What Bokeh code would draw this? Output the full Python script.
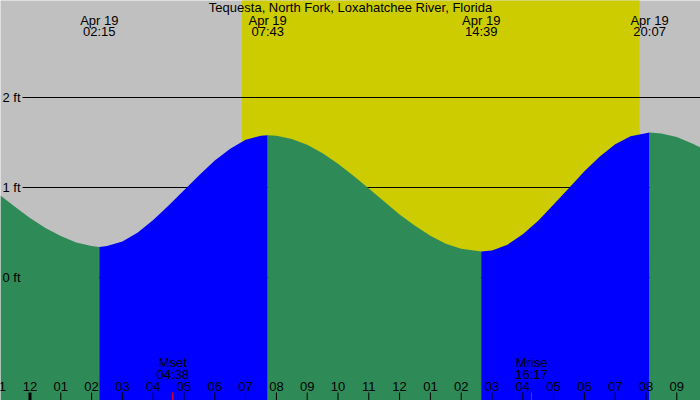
from bokeh.plotting import figure
from bokeh.models import Range1d
from bokeh.core.properties import value
from bokeh.embed import file_html
from bokeh.resources import INLINE

# ---------------- data ----------------
title = "Tequesta, North Fork, Loxahatchee River, Florida"
date_label = "Apr 19"

# hours after midnight Apr 19, tide height in ft
tide_hours = [-0.96, -0.5, 0.0, 0.5, 1.0, 1.5, 2.0, 2.25,
              2.5, 3.0, 3.5, 4.0, 4.5, 5.0, 5.5, 6.0, 6.5, 7.0, 7.5, 7.717,
              8.0, 8.5, 9.0, 9.5, 10.0, 10.5, 11.0, 11.5, 12.0, 12.5, 13.0,
              13.5, 14.0, 14.65,
              15.0, 15.5, 16.0, 16.5, 17.0, 17.5, 18.0, 18.5, 19.0, 19.5, 20.117,
              20.5, 21.0, 21.5, 21.8]
tide_ft = [0.91, 0.79, 0.66, 0.55, 0.46, 0.39, 0.35, 0.34,
           0.35, 0.40, 0.50, 0.64, 0.80, 0.97, 1.14, 1.30, 1.43, 1.53, 1.575, 1.58,
           1.575, 1.54, 1.475, 1.38, 1.265, 1.13, 0.99, 0.845, 0.70, 0.575, 0.465,
           0.375, 0.32, 0.29,
           0.30, 0.365, 0.48, 0.63, 0.81, 0.995, 1.18, 1.345, 1.48, 1.57, 1.61,
           1.60, 1.56, 1.49, 1.44]

extreme_hours = [2.25, 7.717, 14.65, 20.117]
extreme_times = ["02:15", "07:43", "14:39", "20:07"]
extreme_types = ["low", "high", "low", "high"]

sunrise_hour = 6.88
sunset_hour = 19.79

moon_hours = [4.633, 16.283]
moon_names = ["Mset", "Mrise"]
moon_times = ["04:38", "16:17"]

hour_ticks = list(range(-1, 22))
hour_labels = ["11", "12", "01", "02", "03", "04", "05", "06", "07", "08",
               "09", "10", "11", "12", "01", "02", "03", "04", "05", "06",
               "07", "08", "09"]

ft_levels = [0, 1, 2]
ft_labels = ["0 ft", "1 ft", "2 ft"]

# ---------------- styling ----------------
NIGHT = "#C0C0C0"
DAY = "#CCCC00"
FALL = "#2E8B57"
RISE = "#0000FF"
FONT = value("Liberation Sans")
FS = "13px"

PXH = 30.8   # px per hour
PXF = 90.0   # px per ft
x0 = -29.5 / PXH
x1 = x0 + 700 / PXH
ytop = 277.0 / PXF
ybot = ytop - 400 / PXF


def ypx(px):
    return ytop - px / PXF


def xpx(px):
    return x0 + px / PXH


p = figure(width=700, height=400, output_backend="svg", toolbar_location=None,
           x_range=Range1d(x0, x1), y_range=Range1d(ybot, ytop),
           min_border=0, min_border_left=0, min_border_right=0,
           min_border_top=0, min_border_bottom=0)
p.axis.visible = False
p.xgrid.visible = False
p.ygrid.visible = False
p.outline_line_color = None
p.background_fill_color = NIGHT
p.border_fill_color = NIGHT

# daylight band
p.quad(left=[sunrise_hour], right=[sunset_hour], bottom=[ybot - 1], top=[ytop + 1],
       fill_color=DAY, line_color=None)

# horizontal ft lines (behind the water)
p.segment(x0=[xpx(22)] * len(ft_levels), x1=[x1 + 1] * len(ft_levels),
          y0=ft_levels, y1=ft_levels, line_color="black", line_width=1)

# water fill: green when falling, blue when rising
bounds = [x0 - 1] + extreme_hours + [x1 + 1]
for i in range(len(bounds) - 1):
    a, b = bounds[i], bounds[i + 1]
    xs = [t for t in tide_hours if a <= t <= b]
    ys = [h for t, h in zip(tide_hours, tide_ft) if a <= t <= b]
    if i < len(extreme_types):
        color = FALL if extreme_types[i] == "low" else RISE
    else:
        color = FALL if extreme_types[-1] == "high" else RISE
    p.varea(x=xs, y1=[ybot - 1] * len(xs), y2=ys, fill_color=color)


def label(xs, ys, texts, align="center"):
    p.text(x=xs, y=ys, text=texts, text_font=FONT, text_font_size=FS,
           text_color="black", text_align=align, text_baseline="middle")


# ft labels
label([xpx(2)] * len(ft_levels), ft_levels, ft_labels, align="left")

# title
label([(x0 + x1) / 2], [ypx(6.5)], [title])

# extreme labels
label(extreme_hours, [ypx(19.5)] * len(extreme_hours), [date_label] * len(extreme_hours))
label(extreme_hours, [ypx(31.3)] * len(extreme_hours), extreme_times)

# moon labels
label(moon_hours, [ypx(362)] * len(moon_hours), moon_names)
label(moon_hours, [ypx(373.8)] * len(moon_hours), moon_times)

# hour labels and ticks
label(hour_ticks, [ypx(385.5)] * len(hour_ticks), hour_labels)
widths = [3 if t % 24 == 0 else 1 for t in hour_ticks]
p.segment(x0=hour_ticks, x1=hour_ticks, y0=[ypx(392)] * len(hour_ticks),
          y1=[ypx(401)] * len(hour_ticks), line_color="black", line_width=widths)
p.segment(x0=moon_hours, x1=moon_hours, y0=[ypx(392)] * len(moon_hours),
          y1=[ypx(401)] * len(moon_hours), line_color="red", line_width=1)

open("out.html", "w").write(file_html(p, INLINE))
